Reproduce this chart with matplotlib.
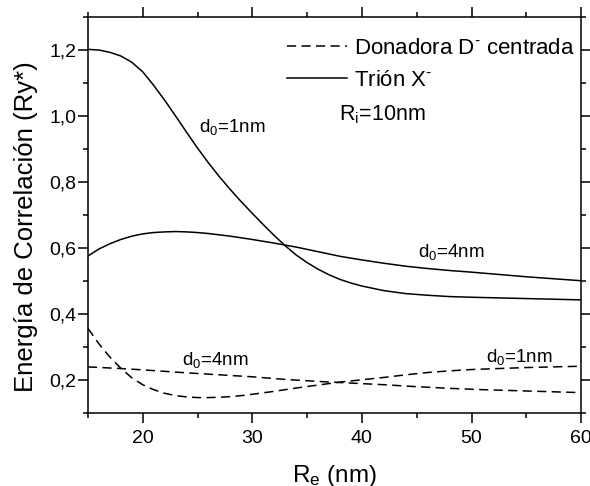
import matplotlib
matplotlib.use('Agg')
import matplotlib.pyplot as plt
from matplotlib.ticker import MultipleLocator, FuncFormatter

plt.rcParams['font.family'] = ['Liberation Sans', 'DejaVu Sans']
plt.rcParams['mathtext.fontset'] = 'custom'
plt.rcParams['mathtext.rm'] = 'Liberation Sans'
plt.rcParams['mathtext.it'] = 'Liberation Sans:italic'

# Trion X-, d0 = 1 nm
re_t1 = [15, 16, 17, 18, 19, 20, 21, 22, 23, 24, 25, 26, 27, 28, 29, 30, 31, 32, 33,
         34, 35, 36, 37, 38, 39, 40, 42, 44, 46, 48, 50, 55, 60]
e_t1 = [1.202, 1.200, 1.193, 1.182, 1.163, 1.134, 1.093, 1.048, 1.000, 0.951, 0.903,
        0.858, 0.816, 0.777, 0.740, 0.705, 0.671, 0.638, 0.607, 0.579, 0.556, 0.536,
        0.519, 0.505, 0.494, 0.485, 0.471, 0.462, 0.457, 0.453, 0.451, 0.447, 0.443]

# Trion X-, d0 = 4 nm
re_t4 = [15, 16, 17, 18, 19, 20, 21, 22, 23, 24, 25, 26, 27, 28, 29, 30, 32, 34, 36,
         38, 40, 42, 44, 46, 48, 50, 55, 60]
e_t4 = [0.576, 0.597, 0.613, 0.626, 0.636, 0.643, 0.647, 0.649, 0.650, 0.649, 0.647,
        0.644, 0.640, 0.636, 0.631, 0.626, 0.615, 0.603, 0.589, 0.575, 0.564, 0.554,
        0.545, 0.538, 0.532, 0.527, 0.513, 0.501]

# Donadora D- centrada, d0 = 1 nm
re_d1 = [15, 16, 17, 18, 19, 20, 21, 22, 23, 24, 25, 26, 27, 28, 29, 30, 32, 34, 36,
         38, 40, 42, 44, 46, 48, 50, 55, 60]
e_d1 = [0.357, 0.310, 0.270, 0.236, 0.207, 0.186, 0.171, 0.160, 0.153, 0.149, 0.147,
        0.147, 0.148, 0.150, 0.153, 0.157, 0.166, 0.176, 0.185, 0.194, 0.201, 0.208,
        0.216, 0.223, 0.228, 0.232, 0.238, 0.242]

# Donadora D- centrada, d0 = 4 nm
re_d4 = [15, 18, 20, 24, 28, 30, 33, 36, 39, 42, 45, 48, 51, 55, 60]
e_d4 = [0.240, 0.235, 0.231, 0.222, 0.214, 0.210, 0.202, 0.196, 0.191, 0.186, 0.180,
        0.175, 0.171, 0.167, 0.162]

fig = plt.figure(figsize=(5.9, 4.86), dpi=100)
ax = fig.add_axes([0.149, 0.150, 0.836, 0.815])

lw = 1.1
dash = (6, 3.5)
ax.plot(re_d1, e_d1, color='black', lw=lw, dashes=dash, label=r'Donadora D$^{\text{-}}$ centrada')
ax.plot(re_d4, e_d4, color='black', lw=lw, dashes=dash)
ax.plot(re_t1, e_t1, color='black', lw=lw, label=r'Trión X$^{\text{-}}$')
ax.plot(re_t4, e_t4, color='black', lw=lw)

ax.set_xlim(15, 60)
ax.set_ylim(0.1, 1.3)
ax.xaxis.set_major_locator(MultipleLocator(10))
ax.xaxis.set_minor_locator(MultipleLocator(5))
ax.yaxis.set_major_locator(MultipleLocator(0.2))
ax.yaxis.set_minor_locator(MultipleLocator(0.1))
ax.yaxis.set_major_formatter(FuncFormatter(lambda v, p: ('%.1f' % v).replace('.', ',')))

ax.tick_params(which='both', direction='out', top=True, right=True, width=1.1,
               labelsize=14, pad=1.5)
ax.tick_params(which='major', length=7)
ax.tick_params(which='minor', length=3.5)
ax.tick_params(axis='x', pad=5)
for s in ax.spines.values():
    s.set_linewidth(1.1)

ax.set_xlabel(r'R$_\mathrm{e}$ (nm)', fontsize=17.5, labelpad=12)
ax.set_ylabel('Energía de Correlación (Ry*)', fontsize=18.5, labelpad=8)
ax.yaxis.label.set_y(0.47)

tf = 13.5
ax.text(25.1, 0.951, r'd$_\mathrm{0}$=1nm', fontsize=tf, ha='left', va='baseline')
ax.text(45.1, 0.573, r'd$_\mathrm{0}$=4nm', fontsize=tf, ha='left', va='baseline')
ax.text(23.6, 0.245, r'd$_\mathrm{0}$=4nm', fontsize=tf, ha='left', va='baseline')
ax.text(51.3, 0.256, r'd$_\mathrm{0}$=1nm', fontsize=tf, ha='left', va='baseline')
ax.text(37.9, 0.988, r'R$_\mathrm{i}$=10nm', fontsize=15.5, ha='left', va='baseline')

ax.legend(loc='upper right', frameon=False, fontsize=16, handlelength=2.7,
          handletextpad=0.3, labelspacing=0.5, borderaxespad=0.1, borderpad=0.2,
          bbox_to_anchor=(1.0, 0.965))

fig.savefig('out.png', dpi=100)
